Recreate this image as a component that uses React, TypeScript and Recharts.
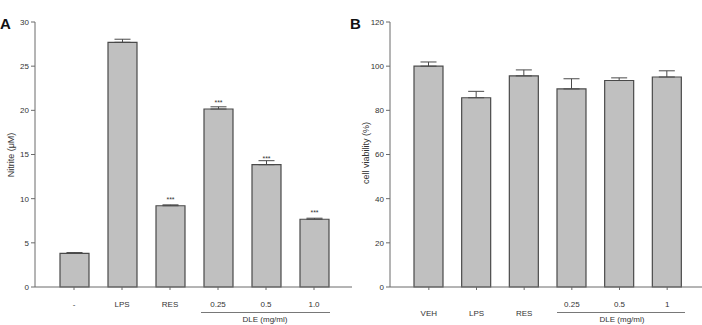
import { Bar, BarChart, ErrorBar, LabelList, XAxis, YAxis } from 'recharts';

const nitriteGroups = ['-', 'LPS', 'RES', '0.25', '0.5', '1.0'];
const nitriteValues = [3.8, 27.7, 9.2, 20.15, 13.85, 7.67];
const nitriteErrors = [0.1, 0.35, 0.1, 0.25, 0.45, 0.12];
const nitriteSig = ['', '', '***', '***', '***', '***'];
const nitriteTicks = [0, 5, 10, 15, 20, 25, 30];

const viabilityGroups = ['VEH', 'LPS', 'RES', '0.25', '0.5', '1'];
const viabilityValues = [100, 85.7, 95.6, 89.7, 93.5, 95.1];
const viabilityErrors = [1.9, 2.9, 2.7, 4.6, 1.2, 2.8];
const viabilityTicks = [0, 20, 40, 60, 80, 100, 120];

// dose labels sit a row higher than the control labels in panel B
const doseGroups = ['0.25', '0.5', '1'];

const nitriteData = nitriteGroups.map((name, i) => ({
  name,
  value: nitriteValues[i],
  err: [0, nitriteErrors[i]],
  sig: nitriteSig[i],
}));

const viabilityData = viabilityGroups.map((name, i) => ({
  name,
  value: viabilityValues[i],
  err: [0, viabilityErrors[i]],
}));

const FONT = '"Liberation Sans", Arial, sans-serif';
const AXIS = '#6b6b6b';
const TEXT = '#333';

const NitriteTick = ({ x, y, payload }: any) => (
  <text x={x} y={y + 17} textAnchor="middle" fontSize={8} fontFamily={FONT} fill={TEXT}>
    {payload.value}
  </text>
);

const ViabilityTick = ({ x, y, payload }: any) => {
  const low = !doseGroups.includes(payload.value);
  return (
    <text
      x={x}
      y={y + (low ? 26 : 17)}
      textAnchor="middle"
      fontSize={8}
      fontFamily={FONT}
      fill={TEXT}
    >
      {payload.value}
    </text>
  );
};

const yTickStyle = { fontSize: 8, fontFamily: FONT, fill: TEXT };

const App = () => (
  <div
    style={{
      position: 'absolute',
      left: 0,
      top: 0,
      width: 702,
      height: 325,
      background: '#fff',
      overflow: 'hidden',
    }}
  >
    <div style={{ position: 'absolute', left: 0, top: 0 }}>
      <BarChart
        width={355}
        height={325}
        data={nitriteData}
        margin={{ top: 22, right: 3, bottom: 8, left: 10 }}
      >
        <XAxis
          dataKey="name"
          height={30}
          padding={{ left: 15, right: 14 }}
          stroke={AXIS}
          tickSize={3}
          tickMargin={0}
          tick={<NitriteTick />}
          interval={0}
        />
        <YAxis
          width={25}
          domain={[0, 30]}
          ticks={nitriteTicks}
          stroke={AXIS}
          tickSize={4}
          tickMargin={2}
          tick={yTickStyle}
          interval={0}
        />
        <Bar
          dataKey="value"
          barSize={29}
          fill="#c0c0c0"
          stroke="#4a4a4a"
          strokeWidth={1.2}
          isAnimationActive={false}
        >
          <ErrorBar dataKey="err" width={8} stroke="#4a4a4a" strokeWidth={1} direction="y" />
          <LabelList
            dataKey="sig"
            position="top"
            offset={4}
            style={{ fontSize: 7, fontFamily: FONT, fill: TEXT }}
          />
        </Bar>
      </BarChart>
    </div>
    <div style={{ position: 'absolute', left: 355, top: 0 }}>
      <BarChart
        width={347}
        height={325}
        data={viabilityData}
        margin={{ top: 22, right: 0, bottom: 8, left: 5 }}
      >
        <XAxis
          dataKey="name"
          height={30}
          padding={{ left: 15, right: 11 }}
          stroke={AXIS}
          tickSize={3}
          tickMargin={0}
          tick={<ViabilityTick />}
          interval={0}
        />
        <YAxis
          width={30}
          domain={[0, 120]}
          ticks={viabilityTicks}
          stroke={AXIS}
          tickSize={4}
          tickMargin={2}
          tick={yTickStyle}
          interval={0}
        />
        <Bar
          dataKey="value"
          barSize={29}
          fill="#c0c0c0"
          stroke="#4a4a4a"
          strokeWidth={1.2}
          isAnimationActive={false}
        >
          <ErrorBar dataKey="err" width={8} stroke="#4a4a4a" strokeWidth={1} direction="y" />
        </Bar>
      </BarChart>
    </div>
    <svg
      width={702}
      height={325}
      style={{ position: 'absolute', left: 0, top: 0, pointerEvents: 'none' }}
    >
      <text x={0} y={29} fontSize={15} fontWeight="bold" fontFamily={FONT} fill="#111">
        A
      </text>
      <text x={350} y={29} fontSize={15} fontWeight="bold" fontFamily={FONT} fill="#111">
        B
      </text>
      <text
        transform="translate(14,155) rotate(-90)"
        textAnchor="middle"
        fontSize={9}
        fontFamily={FONT}
        fill={TEXT}
      >
        Nitrite (μM)
      </text>
      <text
        transform="translate(369,153) rotate(-90)"
        textAnchor="middle"
        fontSize={9}
        fontFamily={FONT}
        fill={TEXT}
      >
        cell viability (%)
      </text>
      <line x1={201} x2={330} y1={312.5} y2={312.5} stroke="#555" strokeWidth={0.8} />
      <text x={265} y={322} textAnchor="middle" fontSize={8} fontFamily={FONT} fill={TEXT}>
        DLE (mg/ml)
      </text>
      <line x1={557} x2={685} y1={312.5} y2={312.5} stroke="#555" strokeWidth={0.8} />
      <text x={622} y={322} textAnchor="middle" fontSize={8} fontFamily={FONT} fill={TEXT}>
        DLE (mg/ml)
      </text>
    </svg>
  </div>
);

export default App;
